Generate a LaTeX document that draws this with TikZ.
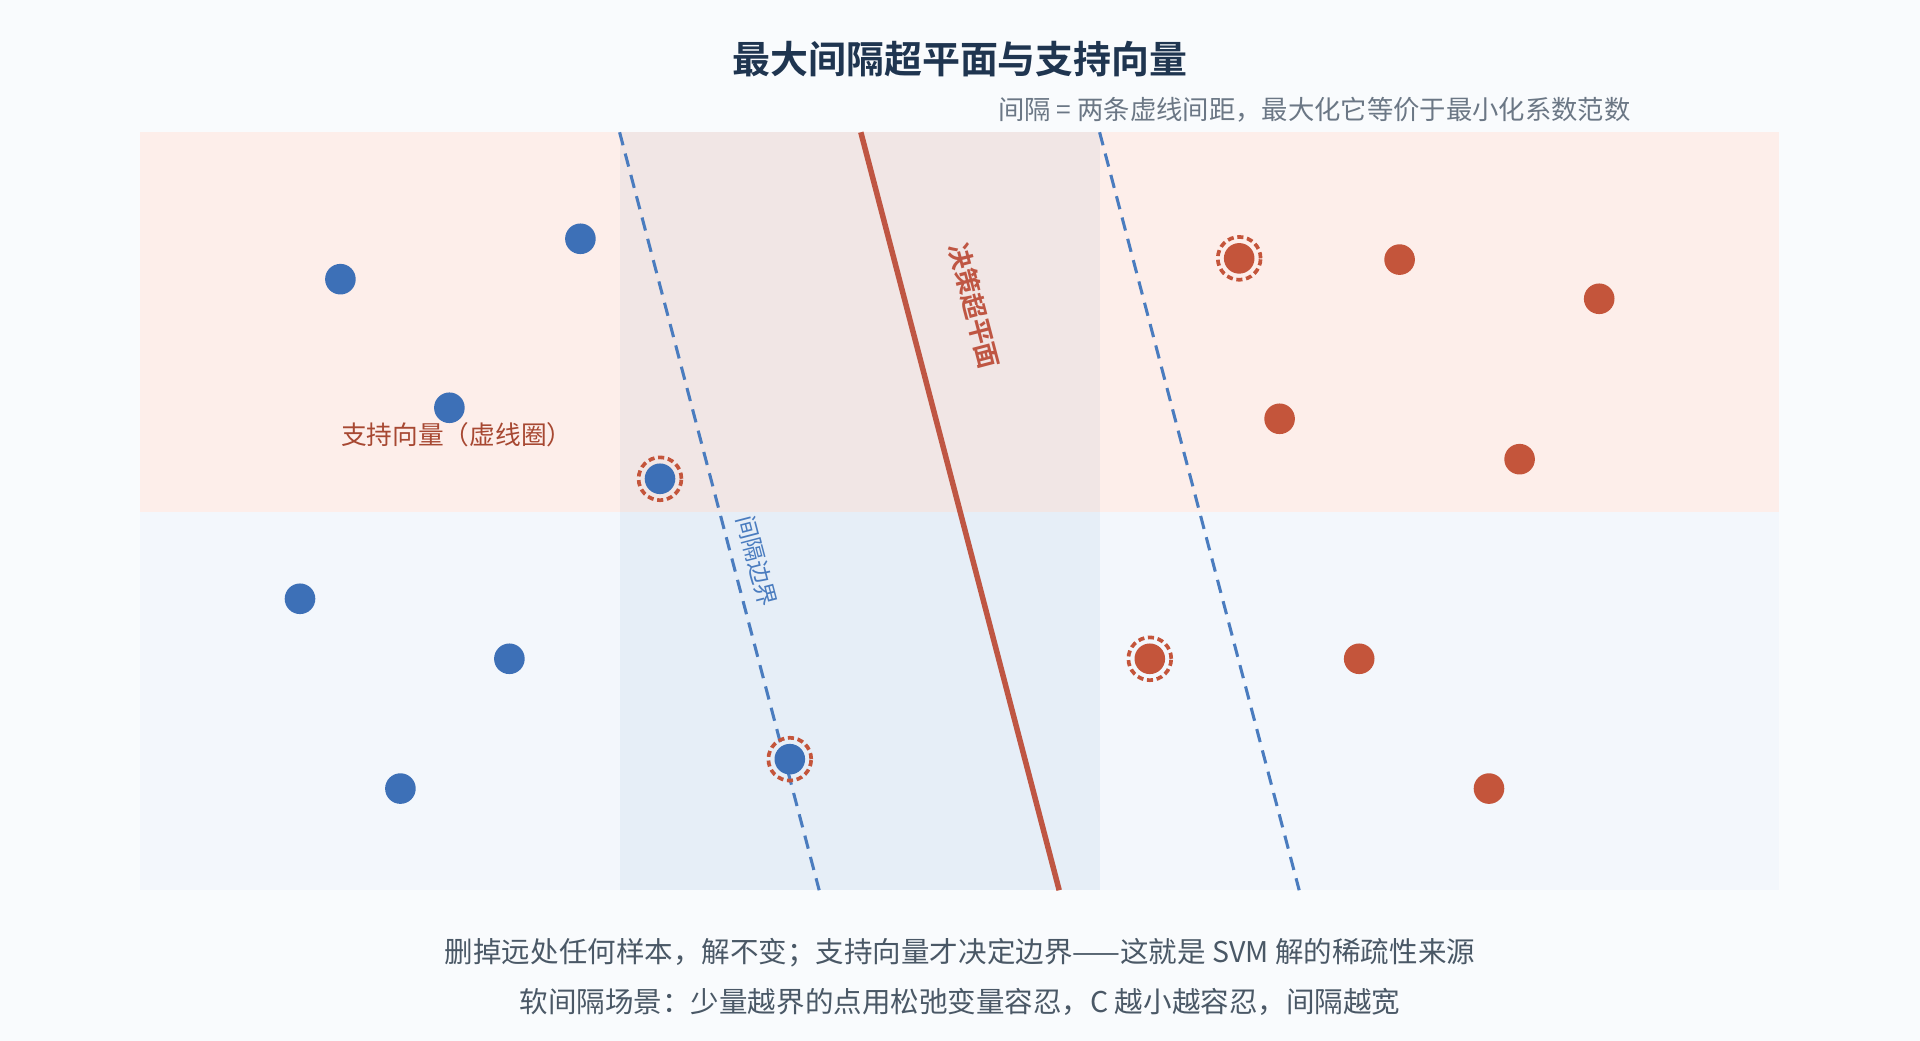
\documentclass[tikz,border=0pt]{standalone}
\usepackage{fontspec}
\setmainfont{Noto Sans CJK SC}
\newfontfamily\cjkbold{Noto Sans CJK SC}[BoldFont={* Bold}]
\usetikzlibrary{calc}
\definecolor{bgpage}{HTML}{F9FBFD}
\definecolor{topzone}{HTML}{FDEEEA}
\definecolor{botzone}{HTML}{F3F7FC}
\definecolor{topband}{HTML}{F1E6E5}
\definecolor{botband}{HTML}{E6EEF7}
\definecolor{posblue}{HTML}{3D70B7}
\definecolor{negred}{HTML}{C4553B}
\definecolor{lineblue}{HTML}{4A7CBF}
\definecolor{hyperred}{HTML}{BF5643}
\definecolor{titleink}{HTML}{1F3550}
\definecolor{noteink}{HTML}{6B7785}
\definecolor{textink}{HTML}{4A5866}
\begin{document}
\begin{tikzpicture}[x=1pt,y=-1pt,
  pospt/.style={circle, fill=posblue, inner sep=0pt, minimum size=25pt},
  negpt/.style={circle, fill=negred, inner sep=0pt, minimum size=25pt},
  sv/.style={circle, draw=negred, line width=3pt, dash pattern=on 5pt off 3pt, inner sep=0pt, minimum size=35pt},
  margin/.style={lineblue, line width=2.5pt, dash pattern=on 11pt off 7pt}]
  % Fondo y zonas
  \fill[bgpage] (0,0) rectangle (1568,850);
  \fill[topzone] (114,108) rectangle (1453,418);
  \fill[botzone] (114,418) rectangle (1453,727);
  \fill[topband] (506,108) rectangle (898,418);
  \fill[botband] (506,418) rectangle (898,727);

  % Rectas
  \coordinate (mlt) at (506,108); \coordinate (mlb) at (669,727);
  \coordinate (mrt) at (898,108); \coordinate (mrb) at (1061,727);
  \coordinate (ht) at (703,108);  \coordinate (hb) at (865,727);
  \draw[margin] (mlt) -- (mlb);
  \draw[margin] (mrt) -- (mrb);
  \draw[hyperred, line width=4.5pt] (ht) -- (hb);

  % Puntos azules
  \foreach \px/\py [count=\i] in {278/228, 474/195, 367/333, 539/391, 245/489, 416/538, 327/644, 645/620}
    \node[pospt] (b\i) at (\px,\py) {};
  % Puntos rojos
  \foreach \px/\py [count=\i] in {1012/211, 1143/212, 1306/244, 1045/342, 1241/375, 939/538, 1110/538, 1216/644}
    \node[negpt] (r\i) at (\px,\py) {};
  % Vectores soporte
  \foreach \s in {b4, b8, r1, r6}
    \node[sv] at (\s) {};

  % Etiquetas
  \node[hyperred, rotate=-75.3, font=\cjkbold\bfseries\fontsize{21}{25}\selectfont] (hlab) at (796,250) {决策超平面};
  \node[lineblue, rotate=-75.3, font=\fontsize{19}{23}\selectfont] (mlab) at (618,458) {间隔边界};
  \node[negred!85!black, font=\fontsize{21}{25}\selectfont] (svlab) at (373,355) {支持向量（虚线圈）};

  % Textos
  \node[titleink, font=\cjkbold\bfseries\fontsize{31}{36}\selectfont] (title) at (784,48) {最大间隔超平面与支持向量};
  \node[noteink, anchor=east, font=\fontsize{21.5}{25}\selectfont] (note) at (1335,90) {间隔 = 两条虚线间距，最大化它等价于最小化系数范数};
  \node[textink, font=\fontsize{23.3}{27}\selectfont] (foot1) at (784,778) {删掉远处任何样本，解不变；支持向量才决定边界——这就是 SVM 解的稀疏性来源};
  \node[textink, font=\fontsize{23.3}{27}\selectfont] (foot2) at (784,818) {软间隔场景：少量越界的点用松弛变量容忍，C 越小越容忍，间隔越宽};
\end{tikzpicture}
\end{document}
